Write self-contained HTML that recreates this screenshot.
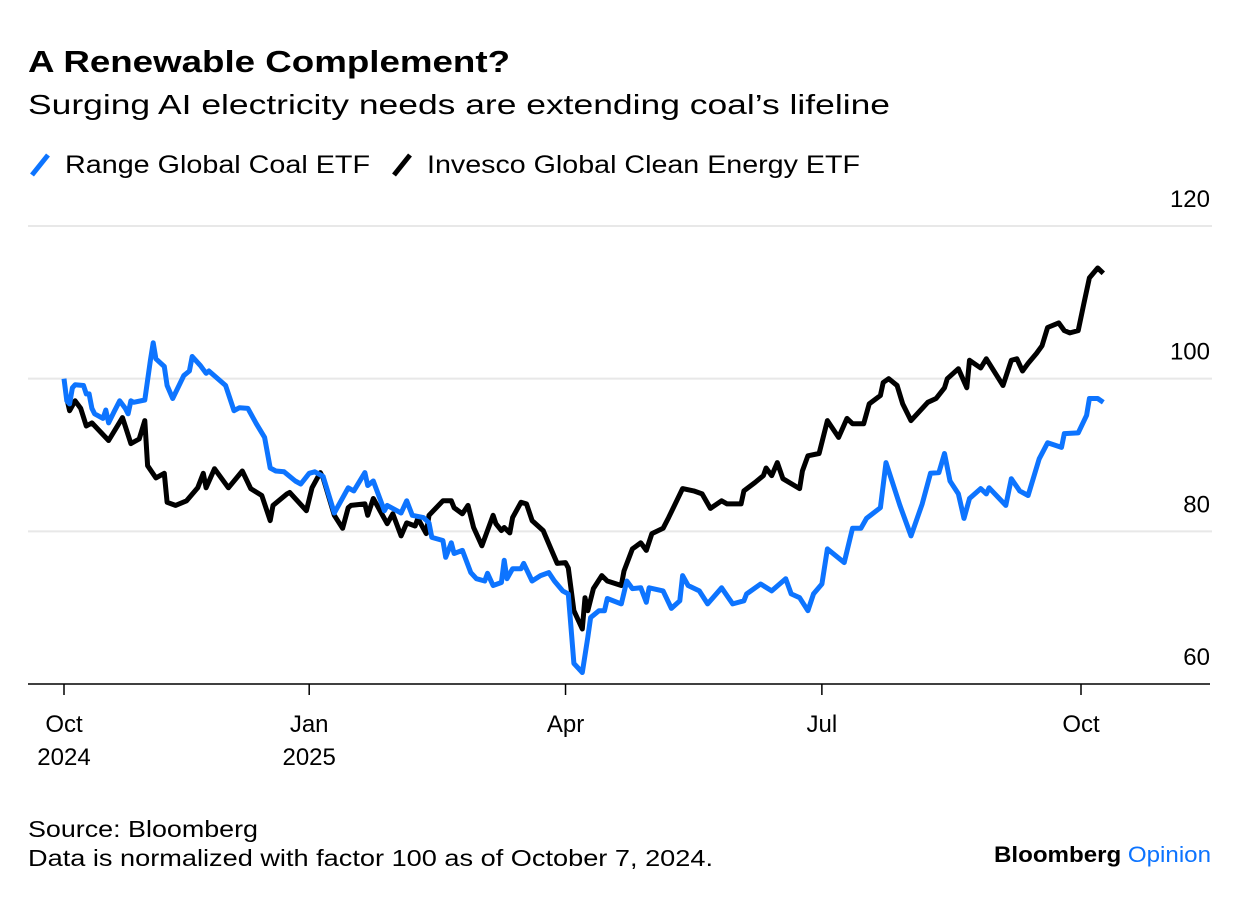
<!DOCTYPE html>
<html><head><meta charset="utf-8"><style>
body{margin:0;background:#fff;font-family:"Liberation Sans",Arial,sans-serif;}
svg text{font-family:"Liberation Sans",Arial,sans-serif;}
</style></head><body>
<svg id="chart" width="1240" height="898" viewBox="0 0 1240 898">
<text x="28" y="72" font-size="31" font-weight="bold" fill="#000" textLength="482" lengthAdjust="spacingAndGlyphs">A Renewable Complement?</text>
<text x="28" y="114" font-size="28" fill="#000" textLength="862" lengthAdjust="spacingAndGlyphs">Surging AI electricity needs are extending coal’s lifeline</text>
<g><line x1="32" y1="175" x2="48" y2="155" stroke="#0d74ff" stroke-width="5"/><text x="65" y="173" font-size="25" textLength="305" lengthAdjust="spacingAndGlyphs">Range Global Coal ETF</text></g>
<g><line x1="394" y1="175" x2="410" y2="155" stroke="#000" stroke-width="5"/><text x="427" y="173" font-size="25" textLength="433" lengthAdjust="spacingAndGlyphs">Invesco Global Clean Energy ETF</text></g>
<g id="grid"></g><g id="series"></g><g id="xaxis"></g>
<text x="28" y="837" font-size="23" textLength="230" lengthAdjust="spacingAndGlyphs">Source: Bloomberg</text>
<text x="28" y="866" font-size="23" textLength="685" lengthAdjust="spacingAndGlyphs">Data is normalized with factor 100 as of October 7, 2024.</text>
<text x="994" y="862" font-size="22" font-weight="bold" textLength="217" lengthAdjust="spacingAndGlyphs">Bloomberg <tspan fill="#0d74ff" font-weight="normal">Opinion</tspan></text>
</svg>
<script>
const yTicks=[60,80,100,120];
const xTickDays=[0,88,180,272,365];
const xTickLabels=[["Oct","2024"],["Jan","2025"],["Apr",""],["Jul",""],["Oct",""]];
const coalDays=[0,1,2,3,4,7,8,9,10,11,14,15,16,18,20,22,23,24,25,29,31,32,33,36,37,39,43,45,46,49,51,52,58,61,63,66,69,72,74,76,79,83,85,88,90,93,94,97,102,104,108,109,111,115,116,121,123,125,129,131,132,136,137,139,140,143,146,148,151,152,154,157,158,159,161,164,165,168,171,174,176,179,181,183,186,188,189,192,194,195,200,202,204,207,209,210,215,218,221,222,224,228,231,236,240,244,245,250,254,259,261,264,267,269,272,274,280,283,286,288,293,295,300,304,308,311,314,316,318,321,323,325,329,331,332,338,340,343,346,350,353,358,359,364,367,368,371,373];
const coalValues=[100,97.1,96.7,98.8,99.2,99.1,98,98,96.1,95.4,94.8,95.9,94.2,95.7,97.1,96.1,95.4,97.1,96.9,97.2,102.4,104.7,102.6,101.6,99.1,97.4,100.4,101,102.9,101.7,100.7,101,99.1,95.8,96.2,96.1,94.1,92.3,88.3,87.9,87.8,86.6,86.2,87.6,87.8,87.2,86,82.4,85.7,85.3,87.7,86,86.6,82.7,83.4,82.4,84,82.1,81.8,81.1,79.2,78.8,76.6,78.5,77.1,77.5,74.6,73.8,73.5,74.5,72.9,73.3,76.2,73.8,75.1,75.1,75.8,73.5,74.2,74.6,73.5,72.2,71.8,62.7,61.5,66.1,68.7,69.6,69.6,71.2,70.5,73.5,72.5,72.6,70.7,72.6,72.2,69.9,70.9,74.2,72.9,72.2,70.5,72.6,70.5,70.9,71.8,73.1,72.2,73.8,71.8,71.3,69.6,71.8,73.1,77.7,75.9,80.4,80.4,81.7,83.1,89,83.4,79.4,83.6,87.6,87.7,90.2,86.6,84.9,81.7,84.3,85.6,84.9,85.7,83.4,86.9,85.3,84.7,89.5,91.6,91,92.8,92.9,95.2,97.4,97.4,96.9];
const cleanDays=[1,2,4,6,8,10,16,21,24,27,29,30,33,36,37,40,44,48,50,51,54,59,64,67,71,74,75,80,81,87,89,92,93,97,100,102,103,108,109,111,116,118,121,123,126,127,130,131,136,139,140,143,145,147,150,154,155,157,158,160,161,164,166,168,172,175,177,180,181,183,186,187,188,190,193,195,200,201,204,207,209,211,215,217,222,226,229,232,236,238,243,244,248,251,252,254,256,258,264,265,267,271,274,278,281,283,287,289,293,294,296,299,301,304,308,310,313,316,317,321,324,325,329,331,337,340,342,344,346,349,351,353,357,359,361,364,366,368,371,373];
const cleanValues=[97.4,95.8,97.1,96.1,93.8,94.2,91.9,94.9,91.5,92.1,94.5,88.6,87,87.6,83.8,83.4,84,85.7,87.6,85.7,88.2,85.7,87.9,85.6,84.7,81.4,83.4,84.9,85.1,82.7,85.7,87.7,87,82.1,80.4,83.1,83.4,83.6,82.1,84.3,81,82.3,79.4,81.1,80.7,81.7,79.7,82.1,84,84,83.1,82.3,83.4,80.5,78.1,82.1,81,80.1,80.5,79.8,81.8,83.8,83.6,81.4,80.1,77.5,75.8,75.9,75.2,69.6,67.2,71.3,69.6,72.5,74.2,73.5,72.9,74.8,77.7,78.5,77.5,79.7,80.4,81.8,85.6,85.3,84.9,83,84,83.6,83.6,85.3,86.4,87.3,88.3,87.3,89,86.9,85.6,87.9,89.9,90.2,94.5,92.3,94.8,94.1,94.1,96.7,97.8,99.5,100,99.1,96.7,94.5,96.1,96.9,97.4,98.8,100,101.3,98.8,102.4,101.4,102.6,99.1,102.4,102.6,101,102,103.3,104.3,106.7,107.3,106.3,106,106.3,109.8,113.2,114.5,113.8];

const NS="http://www.w3.org/2000/svg";
const xScale=d=>64+d*(1081-64)/365;
const yScale=v=>684-(v-60)*(684-226)/60;
const grid=document.getElementById('grid');
yTicks.forEach(t=>{
  if(t>60){const l=document.createElementNS(NS,'line');
  l.setAttribute('x1',28);l.setAttribute('x2',1212);l.setAttribute('y1',yScale(t));l.setAttribute('y2',yScale(t));
  l.setAttribute('stroke','#e8e8e8');l.setAttribute('stroke-width',2);
  
  
  grid.appendChild(l);}
  const tx=document.createElementNS(NS,'text');
  tx.setAttribute('x',1210);tx.setAttribute('y',yScale(t)-19);tx.setAttribute('text-anchor','end');tx.setAttribute('font-size',24);
  tx.textContent=t;
  
  
  grid.appendChild(tx);
});
function drawLine(days,vals,color,name){
  const p=document.createElementNS(NS,'polyline');
  p.setAttribute('points',days.map((d,i)=>xScale(d).toFixed(1)+','+yScale(vals[i]).toFixed(1)).join(' '));
  p.setAttribute('fill','none');p.setAttribute('stroke',color);p.setAttribute('stroke-width',5);p.setAttribute('stroke-linejoin','round');
  
  
  document.getElementById('series').appendChild(p);
}
drawLine(cleanDays,cleanValues,'#000','clean-energy-line');
drawLine(coalDays,coalValues,'#0d74ff','coal-line');
const xa=document.getElementById('xaxis');
const base=document.createElementNS(NS,'line');
base.setAttribute('x1',28);base.setAttribute('x2',1210);base.setAttribute('y1',684);base.setAttribute('y2',684);base.setAttribute('stroke','#000');base.setAttribute('stroke-width',1.5);


xa.appendChild(base);
xTickDays.forEach((d,i)=>{
  const x=xScale(d);
  const t=document.createElementNS(NS,'line');
  t.setAttribute('x1',x);t.setAttribute('x2',x);t.setAttribute('y1',684);t.setAttribute('y2',695);t.setAttribute('stroke','#000');t.setAttribute('stroke-width',1.5);
  
  
  xa.appendChild(t);
  xTickLabels[i].forEach((s,j)=>{
    if(!s)return;
    const tx=document.createElementNS(NS,'text');
    tx.setAttribute('x',x);tx.setAttribute('y',732+j*33);tx.setAttribute('text-anchor','middle');tx.setAttribute('font-size',24);
    tx.textContent=s;
    
    
    xa.appendChild(tx);
  });
});
</script>
</body></html>
